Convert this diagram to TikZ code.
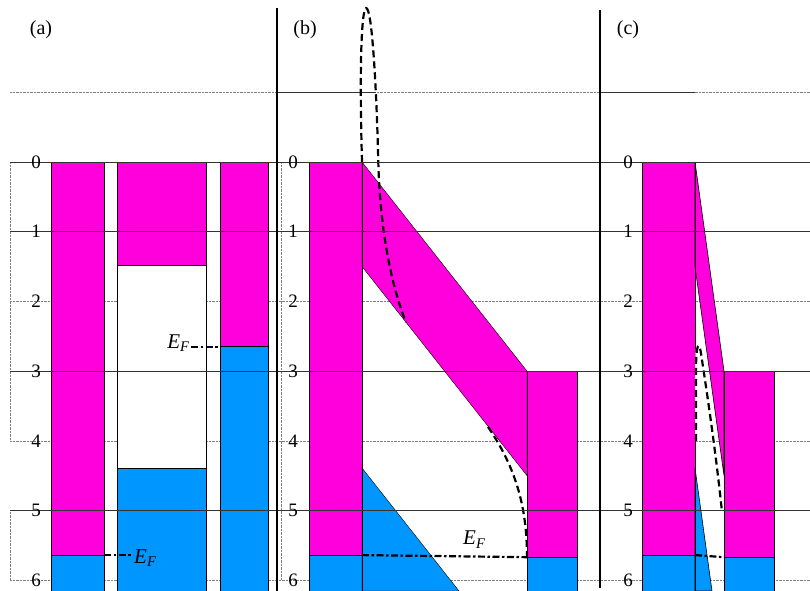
\documentclass[tikz,border=0pt]{standalone}
\usepackage{fontspec}
\setmainfont{Liberation Serif}
\definecolor{cbmag}{RGB}{255,0,221}
\definecolor{vbblue}{RGB}{0,150,255}
\newcommand{\EF}{\textit{E}\textsubscript{\textit{F}}}

\begin{document}
\begin{tikzpicture}[
    x=1pt, y=-69.7pt,
    cb/.style={fill=cbmag, draw=black, thin},
    vb/.style={fill=vbblue, draw=black, thin},
    gapbox/.style={fill=white, draw=black, thin},
    level/.style={black!80, thin},
    halflevel/.style={gray, densely dotted, thin},
    tick/.style={font=\fontsize{19}{22}\selectfont, inner sep=0pt},
    panel/.style={font=\fontsize{20}{24}\selectfont, inner sep=0pt},
    ef/.style={font=\fontsize{21}{24}\selectfont, inner sep=1pt},
    sep/.style={line width=2.4pt},
    fermi/.style={line width=2.2pt, dash pattern=on 7pt off 2.5pt on 2.5pt off 2.5pt},
    occ/.style={line width=2.2pt, dash pattern=on 7pt off 4pt}
]
\useasboundingbox (0,-2.324) rectangle (810,6.155);

% Dotted energy levels (behind the bands)
\draw[halflevel] (10,-1) -- (810,-1);
\draw[halflevel] (10,2) -- (810,2);
\draw[halflevel] (10,4) -- (810,4);
\draw[halflevel] (10,6) -- (810,6);
\draw[halflevel] (10,0) -- (10,4);
\draw[halflevel] (10,5) -- (10,6);
\draw[halflevel] (281,0) -- (281,6);
\draw[level] (277,-1) -- (376,-1);
\draw[level] (600,-1) -- (695,-1);

% --- (a) separate materials ---
\filldraw[cb] (51,0) rectangle (104,5.64);
\filldraw[vb] (51,5.64) rectangle (104,6.155);

\filldraw[cb] (117,0) rectangle (206,1.48);
\filldraw[gapbox] (117,1.48) rectangle (206,4.39);
\filldraw[vb] (117,4.39) rectangle (206,6.155);

\filldraw[cb] (220,0) rectangle (268,2.65);
\filldraw[vb] (220,2.65) rectangle (268,6.155);

\coordinate (a1F) at (104,5.64);
\node[ef, anchor=base west] (efa1) at (133,5.76) {\EF};
\draw[fermi] (a1F) -- (a1F -| efa1.west);

\coordinate (a3F) at (220,2.65);
\node[ef, anchor=base east] (efa3) at (191,2.68) {\EF};
\draw[fermi] (a3F -| efa3.east) -- (a3F);

\node[panel] (pa) at (41,-1.894) {(a)};

% --- (b) contact, wide barrier ---
\filldraw[cb] (309,0) rectangle (362,5.64);
\filldraw[vb] (309,5.64) rectangle (362,6.155);
\filldraw[cb] (362,0) -- (527,3) -- (527,4.5) -- (362,1.5) -- cycle;
\filldraw[vb] (362,4.39) -- (459,6.155) -- (362,6.155) -- cycle;
\filldraw[cb] (527,3) rectangle (577,5.67);
\filldraw[vb] (527,5.67) rectangle (577,6.155);
\draw[semithick] (362,0) -- (362,6.155);

\draw[occ] (362,0) .. controls (359,-1.5) and (362,-2.3) .. (367,-2.2)
    .. controls (373,-2.1) and (377,-0.8) .. (378.3,0)
    .. controls (380,1.0) and (392,1.8) .. (406,2.3);
\draw[occ] (488,3.8) .. controls (514,4.35) and (527,4.9) .. (527,5.67);

\coordinate (b1F) at (362,5.64);
\coordinate (b2F) at (527,5.67);
\draw[fermi] (b1F) -- (b2F);
\node[ef, anchor=base west] (efb) at (462,5.495) {\EF};

\node[panel] (pb) at (305,-1.894) {(b)};

% --- (c) contact, narrow barrier ---
\filldraw[cb] (642,0) rectangle (695,5.64);
\filldraw[vb] (642,5.64) rectangle (695,6.155);
\filldraw[cb, semithick] (695,0) -- (724,3) -- (724,4.5) -- (695,1.5) -- cycle;
\filldraw[vb, semithick] (695,4.39) -- (712,6.155) -- (695,6.155) -- cycle;
\filldraw[cb] (724,3) rectangle (774,5.67);
\filldraw[vb] (724,5.67) rectangle (774,6.155);
\draw[semithick] (695,0) -- (695,6.155);
\draw[semithick] (724,3) -- (724,6.155);

\draw[white, line width=4pt] (697,4.0) -- (697,3.0)
    .. controls (697,2.6) and (699,2.55) .. (701,2.75)
    .. controls (708,3.4) and (716,4.2) .. (722,5.02);
\draw[occ] (696,4.0) -- (696,3.0)
    .. controls (696,2.6) and (699,2.55) .. (701,2.75)
    .. controls (708,3.4) and (716,4.2) .. (722,5.02);

\coordinate (c1F) at (695,5.64);
\coordinate (c2F) at (724,5.67);
\draw[fermi] (c1F) -- (c2F);

\node[panel] (pc) at (628,-1.894) {(c)};

% Solid energy levels (over the bands)
\draw[level] (10,0) -- (810,0);
\draw[level] (10,1) -- (810,1);
\draw[level] (10,3) -- (810,3);
\draw[level] (10,5) -- (810,5);

% Panel separators
\draw[sep] (277,-2.21) -- (277,6.155);
\draw[sep] (600,-2.18) -- (600,6.11);

% Energy scale
\node[tick] (a0) at (36,0) {0};
\node[tick] (a1) at (36,1) {1};
\node[tick] (a2) at (36,2) {2};
\node[tick] (a3) at (36,3) {3};
\node[tick] (a4) at (36,4) {4};
\node[tick] (a5) at (36,5) {5};
\node[tick] (a6) at (36,6) {6};

\node[tick] (b0) at (293,0) {0};
\node[tick] (b1) at (293,1) {1};
\node[tick] (b2) at (293,2) {2};
\node[tick] (b3) at (293,3) {3};
\node[tick] (b4) at (293,4) {4};
\node[tick] (b5) at (293,5) {5};
\node[tick] (b6) at (293,6) {6};

\node[tick] (c0) at (628,0) {0};
\node[tick] (c1) at (628,1) {1};
\node[tick] (c2) at (628,2) {2};
\node[tick] (c3) at (628,3) {3};
\node[tick] (c4) at (628,4) {4};
\node[tick] (c5) at (628,5) {5};
\node[tick] (c6) at (628,6) {6};

\end{tikzpicture}
\end{document}
